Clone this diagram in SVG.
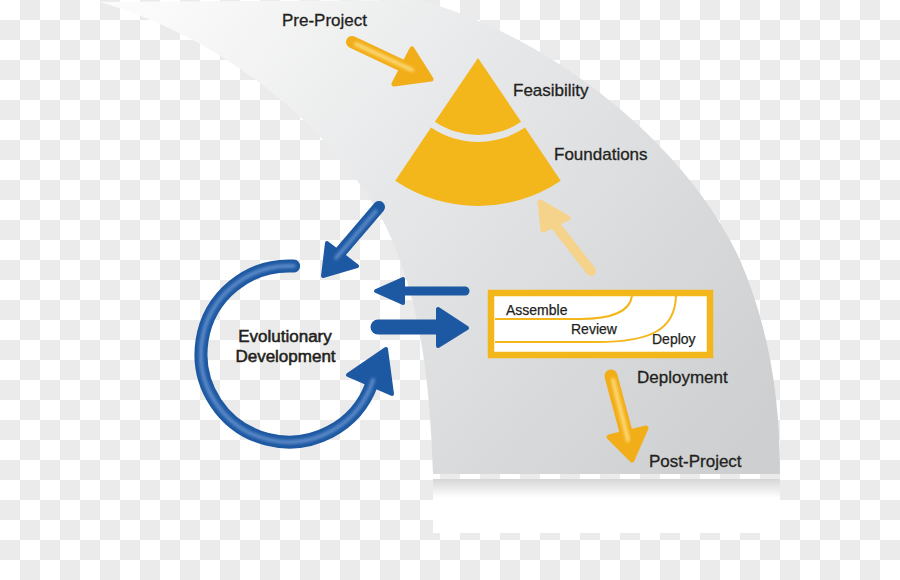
<svg xmlns="http://www.w3.org/2000/svg" width="900" height="580" viewBox="0 0 900 580">
  <defs>
    <pattern id="checker" x="0" y="0" width="40" height="40" patternUnits="userSpaceOnUse">
      <rect width="40" height="40" fill="#ffffff"/>
      <rect x="20" y="0" width="20" height="20" fill="#ebebeb"/>
      <rect x="0" y="20" width="20" height="20" fill="#ebebeb"/>
    </pattern>
    <linearGradient id="bandGrad" x1="150" y1="0" x2="720" y2="470" gradientUnits="userSpaceOnUse">
      <stop offset="0" stop-color="#fbfbfb"/>
      <stop offset="0.4" stop-color="#e7e8e9"/>
      <stop offset="1" stop-color="#cdcfd1"/>
    </linearGradient>
    <linearGradient id="reflGrad" x1="0" y1="0" x2="0" y2="1">
      <stop offset="0" stop-color="#d6d6d6"/>
      <stop offset="0.35" stop-color="#ffffff"/>
      <stop offset="1" stop-color="#ffffff"/>
    </linearGradient>
    <filter id="soft" x="-20%" y="-20%" width="140%" height="140%">
      <feGaussianBlur stdDeviation="1.6"/>
    </filter>
    <style>
      .lbl { font-family: "Liberation Sans", Arial, sans-serif; font-size: 17px; fill: #231f20; stroke: #231f20; stroke-width: 0.3px; }
      .evo { stroke-width: 0.55px; }
      .sm { font-family: "Liberation Sans", Arial, sans-serif; font-size: 14px; fill: #231f20; stroke: #231f20; stroke-width: 0.25px; }
      .pyr { fill: #f3b61b; }
      .bshaft { fill: none; stroke: #1d58a2; stroke-linecap: round; }
      .bhead { fill: #1d58a2; stroke: #1d58a2; stroke-width: 4; stroke-linejoin: round; }
      .bhl { fill: none; stroke: #5d8bc9; stroke-linecap: round; filter: url(#soft); }
      .yshaft { fill: none; stroke: #f2ae18; stroke-linecap: round; }
      .yhead { fill: #f2ae18; stroke: #f2ae18; stroke-width: 5; stroke-linejoin: round; }
      .yhl { fill: none; stroke: #fcd978; stroke-linecap: round; filter: url(#soft); }
      .pshaft { fill: none; stroke: #f6d38a; stroke-linecap: round; }
      .phead { fill: #f6d38a; stroke: #f6d38a; stroke-width: 5; stroke-linejoin: round; }
      .curve { fill: none; stroke: #f3b61b; stroke-width: 2; }
    </style>
  </defs>

  <rect width="900" height="580" fill="url(#checker)"/>

  <g id="band">
    <path d="M100,2 L420,0 C560,40 690,150 740,260 C770,330 780,400 780,474 L433,474 C430,380 420,290 380,215 C330,130 230,40 100,2 Z" fill="url(#bandGrad)"/>
    <rect x="433" y="479" width="347" height="54" fill="url(#reflGrad)"/>
  </g>

  <g id="pyramid">
    <g id="feasibility">
      <path class="pyr" d="M478,58 L434.9,121.8 A77,77 0 0 0 521.1,121.8 Z"/>
      <text class="lbl" x="513" y="96">Feasibility</text>
    </g>
    <g id="foundations">
      <path class="pyr" d="M431,127.6 A84,84 0 0 0 525,127.6 L560.7,180.7 A148,148 0 0 1 395.3,180.7 Z"/>
      <text class="lbl" x="554" y="160">Foundations</text>
    </g>
  </g>

  <g id="pre-project">
    <text class="lbl" x="282" y="26">Pre-Project</text>
  </g>

  <g id="evolutionary-development">
    <text class="lbl evo" x="285" y="342" text-anchor="middle">Evolutionary</text>
    <text class="lbl evo" x="285.5" y="362" text-anchor="middle">Development</text>
  </g>

  <g id="cycle-box">
    <rect x="491" y="293" width="219" height="62" fill="#ffffff" stroke="#f3b61b" stroke-width="6.5"/>
    <path class="curve" d="M495,319 L580,319 C615,319 630,310 632,296"/>
    <path class="curve" d="M495,342 L597,342 C650,342 675,330 676,296"/>
    <text class="sm" x="506" y="315">Assemble</text>
    <text class="sm" x="571" y="334">Review</text>
    <text class="sm" x="652" y="344">Deploy</text>
  </g>

  <g id="deployment">
    <text class="lbl" x="637" y="383">Deployment</text>
  </g>

  <g id="post-project">
    <text class="lbl" x="649" y="467">Post-Project</text>
  </g>

  <g id="connectors">
    <g>
      <line class="yshaft" x1="352" y1="42" x2="405" y2="67" stroke-width="12"/>
      <polygon class="yhead" points="431,79 412,49 394,84"/>
      <line class="yhl" x1="356" y1="44" x2="412" y2="70" stroke-width="4"/>
    </g>
    <g>
      <line class="pshaft" x1="591" y1="271" x2="556" y2="226" stroke-width="10"/>
      <polygon class="phead" points="540,202 543,230 568,218"/>
    </g>
    <g>
      <line class="bshaft" x1="379" y1="207" x2="338" y2="255" stroke-width="12"/>
      <polygon class="bhead" points="323,276 327,243 357,266"/>
      <line class="bhl" x1="376" y1="211" x2="336" y2="258" stroke-width="3.5"/>
    </g>
    <g>
      <line class="bshaft" x1="404" y1="291" x2="465" y2="291" stroke-width="9"/>
      <polygon class="bhead" points="376,291 403,279 403,303"/>
      <line class="bhl" x1="392" y1="291" x2="462" y2="291" stroke-width="3"/>
    </g>
    <g>
      <line class="bshaft" x1="378" y1="327" x2="440" y2="327" stroke-width="15"/>
      <polygon class="bhead" points="467,328 438,309 438,346"/>
      <line class="bhl" x1="381" y1="327" x2="452" y2="327" stroke-width="5"/>
    </g>
    <g>
      <path class="bshaft" d="M293.6,266.1 A88,88 0 1 0 371.7,384.1" stroke-width="13"/>
      <polygon class="bhead" points="386,349 392,394 348,375"/>
      <path class="bhl" d="M293.6,266.1 A88,88 0 1 0 373,380" stroke-width="4"/>
    </g>
    <g>
      <line class="yshaft" x1="611" y1="376" x2="626" y2="432" stroke-width="13"/>
      <polygon class="yhead" points="632,460 609,437 646,428"/>
      <line class="yhl" x1="613" y1="380" x2="628" y2="440" stroke-width="4"/>
    </g>
  </g>
</svg>
